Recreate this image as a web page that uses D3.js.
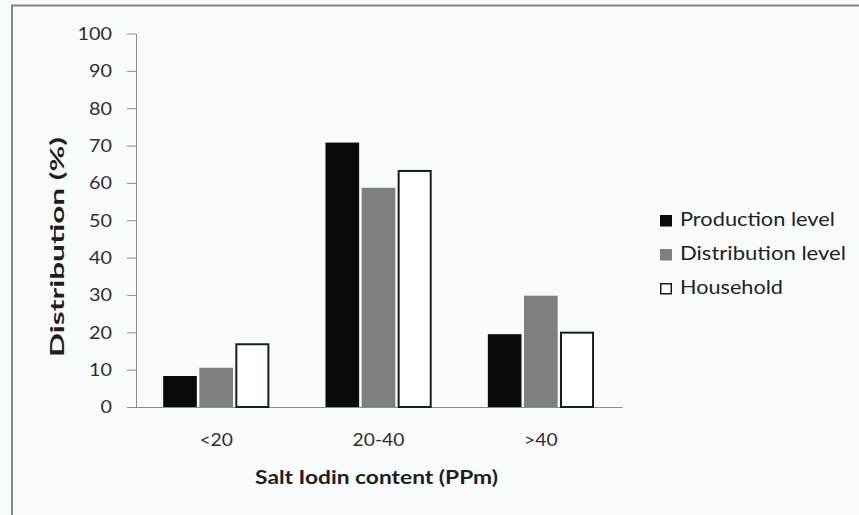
<!DOCTYPE html>
<html><head><meta charset="utf-8">
<script src="https://cdn.jsdelivr.net/npm/d3@7"></script>
<style>body{margin:0;background:#fff}svg{display:block}text{font-family:Lato,"Open Sans",sans-serif}</style>
</head><body><svg id="c" width="859" height="515"></svg>
<script>
const categories = ["<20", "20-40", ">40"];
const seriesNames = ["Production level", "Distribution level", "Household"];
const production = [8.3, 70.8, 19.5];
const distribution = [10.5, 58.7, 29.8];
const household = [16.8, 63.2, 19.9];
const yTicks = [0, 10, 20, 30, 40, 50, 60, 70, 80, 90, 100];
const xTitle = "Salt Iodin content (PPm)";
const yTitle = "Distribution  (%)";

const seriesValues = [production, distribution, household];
const fills = ["#0a0a0a", "#7f7f7f", "#ffffff"];
const strokes = ["none", "none", "#1c1c1c"];

const svg = d3.select("#c");
svg.append("rect").attr("width", 859).attr("height", 515).attr("fill", "#f8fbfc");
svg.append("path").attr("d", "M12,515V5.5H859").attr("fill", "none")
  .attr("stroke", "#7b878d").attr("stroke-width", 2);

const x = d3.scaleBand().domain(categories).range([135, 622]).paddingInner(0.347).paddingOuter(0.1735);
const xs = d3.scaleBand().domain(seriesNames).range([0, x.bandwidth()]).paddingInner(0.07);
const y = d3.scaleLinear().domain([0, 100]).range([407, 33.5]);

function stretchTo(sel, target) {
  sel.each(function () {
    const n = this.getComputedTextLength();
    const s = target / n;
    const t = d3.select(this);
    const base = t.attr("data-base") || "";
    t.attr("transform", base + " scale(" + s + ",1)");
  });
}

// Y axis
const SXY = 1.2;
const yAxis = svg.append("g").attr("transform", "translate(136,0)")
  .call(d3.axisLeft(y).tickValues(yTicks).tickSize(9).tickSizeOuter(0).tickPadding(15));
yAxis.select(".domain").attr("stroke", "#8c8c8c");
yAxis.selectAll(".tick line").attr("stroke", "#8c8c8c");
yAxis.selectAll(".tick text")
  .attr("font-size", 16.5).attr("fill", "#2e2e2e")
  .attr("x", -24 / SXY).attr("dy", "0.36em")
  .attr("transform", "scale(" + SXY + ",1)")
  .style("font-family", "Lato");

// X axis
const SXX = 1.1;
const xAxis = svg.append("g").attr("transform", "translate(0," + y(0) + ")")
  .call(d3.axisBottom(x).tickSize(0).tickSizeOuter(0));
xAxis.select(".domain").attr("stroke", "#8c8c8c");
xAxis.selectAll(".tick text")
  .attr("font-size", 17.5).attr("fill", "#2e2e2e")
  .attr("y", 39).attr("dy", 0)
  .attr("transform", "scale(" + SXX + ",1)")
  .style("font-family", "Lato");

// Bars
const groups = svg.append("g").selectAll("g").data(categories).join("g")
  .attr("transform", d => "translate(" + x(d) + ",0)");
groups.selectAll("rect")
  .data((c, ci) => seriesNames.map((s, si) => ({ s, si, v: seriesValues[si][ci] })))
  .join("rect")
  .attr("x", d => xs(d.s) + (d.si === 2 ? 0.8 : 0))
  .attr("width", d => xs.bandwidth() - (d.si === 2 ? 1.6 : 0))
  .attr("y", d => y(d.v))
  .attr("height", d => y(0) - y(d.v))
  .attr("fill", d => fills[d.si])
  .attr("stroke", d => strokes[d.si])
  .attr("stroke-width", 2);

// Axis titles
const xt = svg.append("text").text(xTitle)
  .attr("font-size", 18.5).attr("font-weight", 700).attr("fill", "#1e1e1e")
  .attr("text-anchor", "middle").attr("x", 0).attr("y", 0)
  .attr("data-base", "translate(376.5,484)");
stretchTo(xt, 243);

const yt = svg.append("text").text(yTitle)
  .attr("font-size", 19).attr("font-weight", 700).attr("fill", "#1e1e1e")
  .attr("text-anchor", "middle").attr("x", 0).attr("y", 0)
  .attr("data-base", "translate(63.5,247) rotate(-90)");
stretchTo(yt, 220);

// Legend
const legendTargets = [155, 166, 103];
const lg = svg.append("g").selectAll("g").data(seriesNames).join("g")
  .attr("transform", (d, i) => "translate(660," + [226, 260, 294][i] + ")");
lg.append("rect")
  .attr("x", d => seriesNames.indexOf(d) === 2 ? 0.75 : 0)
  .attr("y", d => seriesNames.indexOf(d) === 2 ? -10.25 : -11)
  .attr("width", d => seriesNames.indexOf(d) === 2 ? 10.5 : 12)
  .attr("height", d => seriesNames.indexOf(d) === 2 ? 10 : 11.5)
  .attr("fill", (d, i) => fills[i])
  .attr("stroke", (d, i) => strokes[i]).attr("stroke-width", 1.5);
lg.append("text").text(d => d)
  .attr("font-size", 18.5).attr("fill", "#222")
  .attr("x", 0).attr("y", 0)
  .attr("data-base", "translate(20,0)")
  .each(function (d, i) { stretchTo(d3.select(this), legendTargets[i]); });
</script>
</body></html>
